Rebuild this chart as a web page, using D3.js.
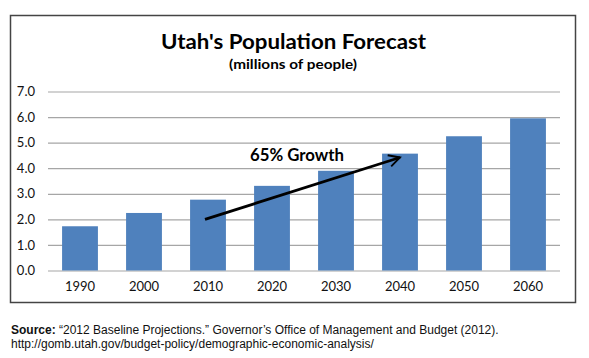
<!DOCTYPE html>
<html>
<head>
<meta charset="utf-8">
<script src="https://cdn.jsdelivr.net/npm/d3@7"></script>
<style>
  html, body { margin: 0; padding: 0; background: #fff; }
  svg { display: block; }
</style>
</head>
<body>
<svg id="chart" width="589" height="358"></svg>
<script>
// ---- data ----
const years = ["1990", "2000", "2010", "2020", "2030", "2040", "2050", "2060"];
const population = [1.73, 2.25, 2.77, 3.31, 3.90, 4.57, 5.25, 5.95];
const yTicks = [0, 1, 2, 3, 4, 5, 6, 7];
const titleText = "Utah's Population Forecast";
const subtitleText = "(millions of people)";
const annotationText = "65% Growth";
const arrowFrom = ["2010", 2.0];
const arrowTo = ["2040", 4.42];
const sourceLabel = "Source:";
const sourceLine1 = " \u201C2012 Baseline Projections.\u201D Governor\u2019s Office of Management and Budget (2012).";
const sourceLine2 = "http://gomb.utah.gov/budget-policy/demographic-economic-analysis/";

// ---- layout ----
const svg = d3.select("#chart");
const plotLeft = 48, plotRight = 560, plotTop = 91.5, plotBottom = 270.5;
const calibri = "Lato, 'Open Sans', sans-serif";

// outer frame
svg.append("rect")
  .attr("x", 10.5).attr("y", 15.5).attr("width", 565).attr("height", 287)
  .attr("fill", "#fff").attr("stroke", "#444").attr("stroke-width", 1.5);

const x = d3.scaleBand().domain(years).range([plotLeft, plotRight])
  .paddingInner(0.44).paddingOuter(0.22);
const y = d3.scaleLinear().domain([0, 7]).range([plotBottom, plotTop]);

// y axis with gridlines
const yAxis = svg.append("g")
  .attr("transform", `translate(${plotLeft},0)`)
  .call(d3.axisLeft(y).tickValues(yTicks).tickFormat(d3.format(".1f"))
    .tickSize(-(plotRight - plotLeft)).tickPadding(13));
yAxis.select(".domain").remove();
yAxis.selectAll(".tick line").attr("stroke", "#a6a6a6").attr("stroke-width", 1.2);
yAxis.selectAll(".tick text").attr("font-family", calibri).attr("font-size", 13).attr("fill", "#111");

// bars
svg.append("g").selectAll("rect").data(years).join("rect")
  .attr("x", d => x(d))
  .attr("width", x.bandwidth())
  .attr("y", (d, i) => y(population[i]))
  .attr("height", (d, i) => y(0) - y(population[i]))
  .attr("fill", "#4f81bd");

// x axis
const xAxis = svg.append("g")
  .attr("transform", `translate(0,${plotBottom})`)
  .call(d3.axisBottom(x).tickSize(0).tickPadding(11.5));
xAxis.select(".domain").remove();
xAxis.selectAll(".tick text").attr("font-family", calibri).attr("font-size", 13).attr("fill", "#111");

// titles
svg.append("text").attr("x", 293.5).attr("y", 48.5).attr("text-anchor", "middle")
  .attr("font-family", calibri).attr("font-weight", "bold").attr("font-size", 21.5)
  .attr("textLength", 265).attr("lengthAdjust", "spacingAndGlyphs")
  .attr("fill", "#000").text(titleText);
svg.append("text").attr("x", 293).attr("y", 69).attr("text-anchor", "middle")
  .attr("font-family", calibri).attr("font-weight", "bold").attr("font-size", 14)
  .attr("textLength", 128).attr("lengthAdjust", "spacingAndGlyphs")
  .attr("fill", "#000").text(subtitleText);

// annotation arrow
const defs = svg.append("defs");
defs.append("marker").attr("id", "arrowhead")
  .attr("viewBox", "0 0 12 12").attr("refX", 10.5).attr("refY", 6)
  .attr("markerWidth", 5).attr("markerHeight", 5).attr("markerUnits", "strokeWidth")
  .attr("orient", "auto")
  .append("path").attr("d", "M1,1 L10.5,6 L1,11")
  .attr("fill", "none").attr("stroke", "#000").attr("stroke-width", 1.6)
  .attr("stroke-linejoin", "miter");
svg.append("line")
  .attr("x1", x(arrowFrom[0]) + x.bandwidth() / 2 - 3).attr("y1", y(arrowFrom[1]))
  .attr("x2", x(arrowTo[0]) + x.bandwidth() / 2).attr("y2", y(arrowTo[1]))
  .attr("stroke", "#000").attr("stroke-width", 2.8)
  .attr("marker-end", "url(#arrowhead)");
svg.append("text").attr("x", 250).attr("y", 161)
  .attr("font-family", calibri).attr("font-weight", "bold").attr("font-size", 16.5)
  .attr("textLength", 94).attr("lengthAdjust", "spacingAndGlyphs")
  .attr("fill", "#000").text(annotationText);

// source
const src = svg.append("text").attr("x", 11).attr("y", 334)
  .attr("font-family", "'Liberation Sans', Arial, sans-serif").attr("font-size", 12).attr("fill", "#111");
src.append("tspan").attr("font-weight", "bold").text(sourceLabel);
src.append("tspan").text(sourceLine1);
svg.append("text").attr("x", 11).attr("y", 348)
  .attr("font-family", "'Liberation Sans', Arial, sans-serif").attr("font-size", 12).attr("fill", "#111")
  .text(sourceLine2);
</script>
</body>
</html>
